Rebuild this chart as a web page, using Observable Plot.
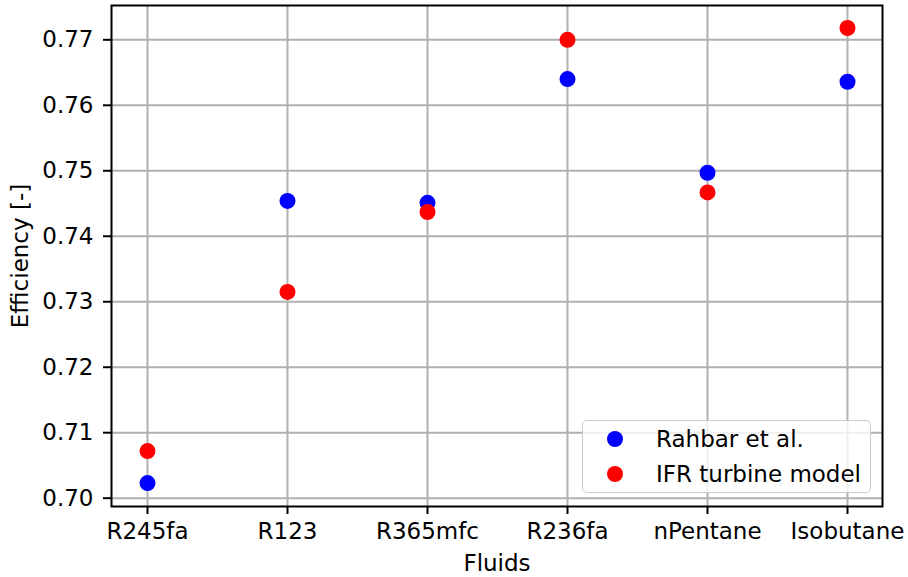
<!DOCTYPE html>
<html>
<head>
<meta charset="utf-8">
<script src="https://cdn.jsdelivr.net/npm/d3@7"></script>
<script src="https://cdn.jsdelivr.net/npm/@observablehq/plot@0.6"></script>
<style>
  html, body { margin: 0; padding: 0; background: #fff; }
  #wrap { position: relative; width: 908px; height: 577px; font-family: "DejaVu Sans", sans-serif; }
  #legend { position: absolute; left: 582px; top: 420px; width: 289px; height: 73px;
    background: rgba(255,255,255,0.8); border: 1.5px solid #cccccc; border-radius: 5px; box-sizing: border-box; }
  .item { position: absolute; left: 0; height: 30px; display: flex; align-items: center; font-size: 23px; color: #000; }
  .sw { width: 16px; height: 16px; border-radius: 50%; margin-left: 24px; margin-right: 33px; }
</style>
</head>
<body>
<div id="wrap"></div>
<script>
const fluids = ["R245fa", "R123", "R365mfc", "R236fa", "nPentane", "Isobutane"];
const rahbar = [0.7023, 0.7454, 0.7451, 0.7640, 0.7497, 0.7636];
const ifr = [0.7072, 0.7315, 0.7437, 0.7700, 0.7467, 0.7718];
const seriesNames = ["Rahbar et al.", "IFR turbine model"];
const seriesColors = ["#0000ff", "#ff0000"];
const yTicks = [0.70, 0.71, 0.72, 0.73, 0.74, 0.75, 0.76, 0.77];

const data = [];
fluids.forEach((f, i) => data.push({fluid: f, value: rahbar[i], series: seriesNames[0]}));
fluids.forEach((f, i) => data.push({fluid: f, value: ifr[i], series: seriesNames[1]}));

const chart = Plot.plot({
  width: 908,
  height: 577,
  marginLeft: 111,
  marginRight: 26,
  marginTop: 5,
  marginBottom: 71,
  style: {fontFamily: "DejaVu Sans, sans-serif", fontSize: "23px", background: "white", color: "black"},
  x: {type: "point", domain: fluids, padding: 0.25},
  y: {domain: [0.69873, 0.77524]},
  color: {domain: seriesNames, range: seriesColors},
  marks: [
    Plot.gridX(fluids, {stroke: "#b0b0b0", strokeOpacity: 1, strokeWidth: 2}),
    Plot.gridY(yTicks, {stroke: "#b0b0b0", strokeOpacity: 1, strokeWidth: 2}),
    Plot.dot(data, {x: "fluid", y: "value", fill: "series", r: 8}),
    Plot.frame({stroke: "black", strokeWidth: 2}),
    Plot.axisX({tickSize: 8, tickPadding: 8, strokeWidth: 2, label: "Fluids", labelAnchor: "center", labelArrow: "none", labelOffset: 64, fontSize: 23}),
    Plot.axisY(yTicks, {tickSize: 8, tickPadding: 10, strokeWidth: 2, tickFormat: d3.format(".2f"), label: "Efficiency [-]", labelAnchor: "center", labelArrow: "none", labelOffset: 100, fontSize: 23})
  ]
});
const wrap = document.getElementById("wrap");
wrap.appendChild(chart);

const legend = document.createElement("div");
legend.id = "legend";
seriesNames.forEach((name, i) => {
  const it = document.createElement("div");
  it.className = "item";
  it.style.top = (3 + i * 35) + "px";
  const sw = document.createElement("span");
  sw.className = "sw";
  sw.style.background = seriesColors[i];
  const t = document.createElement("span");
  t.textContent = name;
  it.appendChild(sw);
  it.appendChild(t);
  legend.appendChild(it);
});
wrap.appendChild(legend);
</script>
</body>
</html>
